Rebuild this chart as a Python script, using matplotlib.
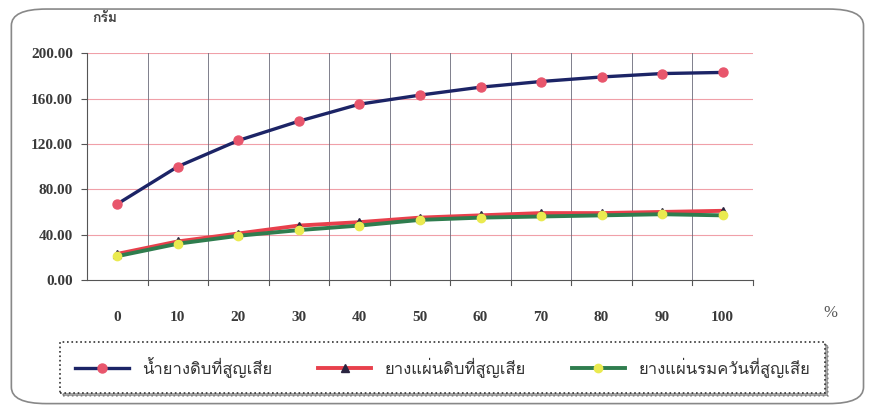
import matplotlib
matplotlib.use('Agg')
import matplotlib.pyplot as plt
from matplotlib import font_manager
from matplotlib.ft2font import FT2Font
from matplotlib.patches import FancyBboxPatch

# data
categories = ['0', '10', '20', '30', '40', '50', '60', '70', '80', '90', '100']
latex_loss = [67, 100, 123, 140, 155, 163, 170, 175, 179, 182, 183]
sheet_loss = [23, 34, 41, 48, 51, 55, 57, 59, 59, 60, 61]
smoked_loss = [21, 32, 39, 44, 48, 53, 55, 56, 57, 58, 57]
series_names = ['น้ำยางดิบที่สูญเสีย', 'ยางแผ่นดิบที่สูญเสีย', 'ยางแผ่นรมควันที่สูญเสีย']
y_ticks = [0, 40, 80, 120, 160, 200]


def thai_font():
	'''Find an installed family that has Thai glyphs'''
	for f in font_manager.fontManager.ttflist:
		try:
			if 0x0E01 in FT2Font(f.fname).get_charmap():
				return f.name
		except Exception:
			pass
	return 'DejaVu Sans'


thai = thai_font()
tick_font = dict(family='Liberation Serif', weight='bold', size=11, color='#3a3a3a')

fig = plt.figure(figsize=(8.74, 4.11), dpi=100)
ax = fig.add_axes([0.0995, 0.3187, 0.762, 0.552])

x = list(range(len(categories)))
ax.plot(x, latex_loss, color='#1c2466', lw=2.4, marker='o', ms=6.5,
		mfc='#e8566c', mec='#e8566c', label=series_names[0], zorder=4)
ax.plot(x, sheet_loss, color='#e8404c', lw=2.8, marker='^', ms=6,
		mfc='#2a2440', mec='#2a2440', label=series_names[1], zorder=3)
ax.plot(x, smoked_loss, color='#2f7d4e', lw=2.8, marker='o', ms=6,
		mfc='#eaea50', mec='#eaea50', label=series_names[2], zorder=3)

ax.set_xlim(-0.5, len(categories) - 0.5)
ax.set_ylim(0, 200)
ax.set_yticks(y_ticks)
ax.set_yticklabels(['%.2f' % v for v in y_ticks], fontdict=tick_font)
ax.set_xticks(x)
ax.set_xticklabels(categories, fontdict=tick_font)
ax.tick_params(axis='x', length=0, pad=22)
ax.tick_params(axis='y', length=4, color='#555555', pad=6)

# grid: pink horizontal lines, grey vertical lines on category borders
for v in y_ticks[1:]:
	ax.axhline(v, color='#f0a0a8', lw=0.8, zorder=1)
for b in range(1, len(categories) + 1):
	ax.axvline(b - 0.5, color='#6a6a7a', lw=0.6, zorder=1)
	ax.plot([b - 0.5, b - 0.5], [0, -4], color='#555555', lw=0.8, clip_on=False)

for side in ['top', 'right']:
	ax.spines[side].set_visible(False)
ax.spines['left'].set_color('#555555')
ax.spines['bottom'].set_color('#555555')

fig.text(0.12, 0.955, 'กรัม', family=[thai, 'DejaVu Sans'], fontsize=10, fontweight='bold',
		 color='#444444', ha='center', va='center')
fig.text(0.95, 0.238, '%', family='Liberation Serif', fontsize=12, color='#555555',
		 ha='center', va='center')

leg = fig.legend(loc='lower left', bbox_to_anchor=(0.069, 0.044, 0.875, 0.121),
				 mode='expand', ncol=3, frameon=True, shadow=True, fancybox=False,
				 handlelength=3.2, borderaxespad=0, borderpad=0.9,
				 prop={'family': [thai, 'DejaVu Sans'], 'size': 12})
leg.get_frame().set_linestyle(':')
leg.get_frame().set_edgecolor('#333333')
leg.get_frame().set_linewidth(1.2)
for t in leg.get_texts():
	t.set_color('#333333')

frame = FancyBboxPatch((0.013, 0.018), 0.975, 0.96, boxstyle='round,pad=0,rounding_size=0.04',
					   transform=fig.transFigure, fill=False, ec='#888888', lw=1.2)
fig.patches.append(frame)

fig.savefig('out.png', dpi=100)
